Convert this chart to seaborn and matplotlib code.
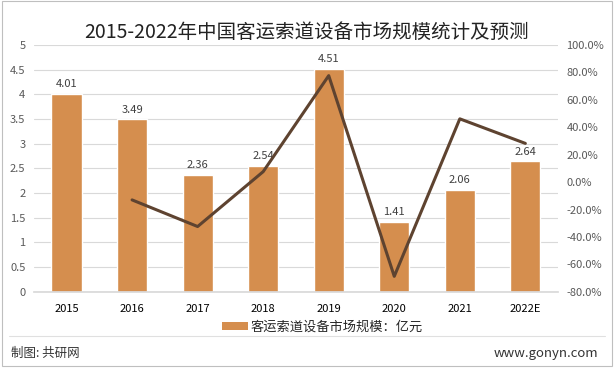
import matplotlib.pyplot as plt
import seaborn as sns
import pandas as pd
from matplotlib.ticker import FuncFormatter
from matplotlib.lines import Line2D
from matplotlib.patches import Patch

years = ["2015", "2016", "2017", "2018", "2019", "2020", "2021", "2022E"]
scale = [4.01, 3.49, 2.36, 2.54, 4.51, 1.41, 2.06, 2.64]
growth = [None, -13.0, -32.4, 7.6, 77.6, -68.7, 46.1, 28.2]

sns.set_theme(style="white")
plt.rcParams['font.family'] = ['Noto Sans CJK SC', 'DejaVu Sans']

df = pd.DataFrame({"year": years, "scale": scale, "growth": growth})

fig = plt.figure(figsize=(6.14, 3.68), dpi=100)
ax = fig.add_axes([0.055, 0.207, 0.854, 0.671])

bar_color = "#D58E4E"
line_color = "#5E4330"
grey = "#595959"

sns.barplot(data=df, x="year", y="scale", color=bar_color, width=0.46,
            saturation=1, ax=ax)
ax.set_ylim(0, 5)
ax.set_yticks([i * 0.5 for i in range(11)])
ax.yaxis.set_major_formatter(FuncFormatter(lambda v, p: f"{v:g}"))
ax.grid(axis="y", color="#D9D9D9", linewidth=0.8)
ax.set_axisbelow(True)
for s in ax.spines.values():
    s.set_visible(False)
ax.spines["bottom"].set_visible(True)
ax.spines["bottom"].set_color("#D9D9D9")
ax.set_xlabel("")
ax.set_ylabel("")
ax.tick_params(axis="both", length=0, labelsize=8, colors=grey, pad=6)
ax.tick_params(axis="x", colors="black", pad=9)
for lab in ax.get_xticklabels():
    lab.set_color("black")

for i, v in enumerate(scale):
    ax.text(i, v + 0.1, f"{v:.2f}", ha="center", va="bottom", fontsize=8,
            color="#404040")

ax2 = ax.twinx()
sns.lineplot(x=list(range(len(years))), y=growth, color=line_color,
             linewidth=2.2, ax=ax2)
ax2.set_ylim(-80, 100)
ax2.set_yticks(range(-80, 101, 20))
ax2.yaxis.set_major_formatter(FuncFormatter(lambda v, p: f"{v:.1f}%"))
for s in ax2.spines.values():
    s.set_visible(False)
ax2.tick_params(axis="y", length=0, labelsize=8, colors=grey, pad=6)
ax2.set_ylabel("")
ax.set_xlim(-0.5, len(years) - 0.5)

fig.text(0.5, 0.913, "2015-2022年中国客运索道设备市场规模统计及预测",
         ha="center", va="center", fontsize=14, color="#222222")

handle = Patch(facecolor=bar_color, edgecolor="none")
fig.legend([handle], ["客运索道设备市场规模：亿元"], loc="center",
           bbox_to_anchor=(0.525, 0.112), frameon=False, fontsize=9.5,
           handlelength=2.0, handleheight=0.55, handletextpad=0.2)

fig.add_artist(Line2D([0.015, 0.985], [0.087, 0.087], color="#E0E0E0",
                      linewidth=0.8, transform=fig.transFigure))
fig.text(0.018, 0.04, "制图: 共研网", ha="left", va="center", fontsize=9,
         color="#333333")
fig.text(0.975, 0.04, "www.gonyn.com", ha="right", va="center",
         fontsize=9.5, color="#333333")
fig.patches.append(plt.Rectangle((0.004, 0.006), 0.992, 0.99, fill=False,
                                 edgecolor="#BFBFBF", linewidth=0.8,
                                 transform=fig.transFigure, figure=fig))

fig.savefig("out.png", dpi=100)
